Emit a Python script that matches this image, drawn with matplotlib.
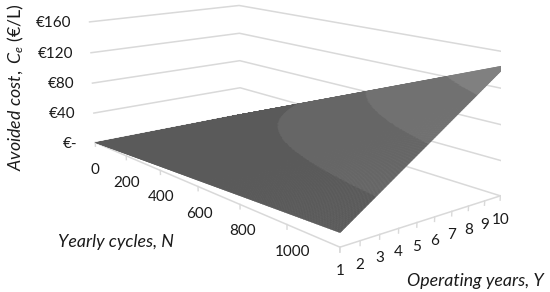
import numpy as np
import matplotlib
matplotlib.use('Agg')
import matplotlib.pyplot as plt
from mpl_toolkits.mplot3d import proj3d

plt.rcParams['font.family'] = ['Lato', 'DejaVu Sans']
plt.rcParams['mathtext.fontset'] = 'custom'
plt.rcParams['mathtext.it'] = 'Lato:italic'
plt.rcParams['mathtext.rm'] = 'Lato'

# data
cycles = [0, 200, 400, 600, 800, 1000, 1200]
years = [1, 2, 3, 4, 5, 6, 7, 8, 9, 10]
cost_table = [
    [0, 0, 0, 0, 0, 0, 0, 0, 0, 0],
    [2.4, 4.9, 7.3, 9.8, 12.2, 14.6, 17.1, 19.5, 22, 24.4],
    [4.9, 9.8, 14.6, 19.5, 24.4, 29.3, 34.2, 39, 43.9, 48.8],
    [7.3, 14.6, 22, 29.3, 36.6, 43.9, 51.2, 58.6, 65.9, 73.2],
    [9.8, 19.5, 29.3, 39, 48.8, 58.6, 68.3, 78.1, 87.8, 97.6],
    [12.2, 24.4, 36.6, 48.8, 61, 73.2, 85.4, 97.6, 109.8, 122],
    [14.6, 29.3, 43.9, 58.6, 73.2, 87.8, 102.5, 117.1, 131.8, 146.4],
]
cost_ticks = [0, 40, 80, 120, 160]
cost_labels = ['€-', '€40', '€80', '€120', '€160']
cycle_labels = ['0', '200', '400', '600', '800', '1000']
band_colors = ['#5a5a5a', '#666666', '#717171', '#808080']
grid_color = '#d9d9d9'
text_color = '#1a1a1a'

fig = plt.figure(figsize=(5.5, 2.92), dpi=100)
ax = fig.add_subplot(projection='3d', computed_zorder=False)
ax.set_position([46.14 / 550, -43.69 / 292, 454.45 / 550, 454.45 / 292])
ax.view_init(elev=13.385, azim=-38.954, roll=0.155)
ax.set_proj_type('persp', focal_length=0.4047)
ax.set_box_aspect((2.977, 1.488, 1))
ax.set_xlim(0, 1200)
ax.set_ylim(1, 10)
ax.set_zlim(0, 160)
ax.set_axis_off()


def tick_label(x, y, z, s, dx, dy, ha='center'):
    # project the 3d tick position, then nudge the label in pixels
    px, py, _ = proj3d.proj_transform(x, y, z, ax.get_proj())
    ax.annotate(s, xy=(px, py), xytext=(dx, dy), textcoords='offset pixels',
                ha=ha, va='center', fontsize=11, color=text_color,
                annotation_clip=False)


# walls
for c in cost_ticks:
    ax.plot([0, 0, 1200], [1, 10, 10], [c, c, c], color=grid_color, lw=1.1, zorder=1)

# floor edges and tick marks
ax.plot([0, 1200, 1200], [1, 1, 10], [0, 0, 0], color=grid_color, lw=1.1, zorder=1)
for n in cycles:
    ax.plot([n, n], [1, 1], [0, -5], color=grid_color, lw=1, zorder=1)
for y in years:
    ax.plot([1200, 1200], [y, y], [0, -5], color=grid_color, lw=1, zorder=1)

# surface, bands change every 40 like the excel chart
fine_n = np.linspace(cycles[0], cycles[-1], 241)
fine_y = np.linspace(years[0], years[-1], 241)
table = np.array(cost_table)
by_n = np.array([np.interp(fine_n, cycles, table[:, j]) for j in range(len(years))]).T
fine_z = np.array([np.interp(fine_y, years, row) for row in by_n])
Y, X = np.meshgrid(fine_y, fine_n)
idx = np.clip(np.digitize(fine_z, cost_ticks) - 1, 0, len(band_colors) - 1)
rgba = np.array([matplotlib.colors.to_rgba(c) for c in band_colors])[idx]
ax.plot_surface(X, Y, fine_z, facecolors=rgba, rstride=1, cstride=1,
                shade=False, linewidth=0.3, zorder=2)

# tick labels
for c, s in zip(cost_ticks, cost_labels):
    tick_label(0, 1, c, s, -18, -1, ha='right')
cycle_dx = [0, 0, 1, 1, 3, 6]
for n, s, dx in zip(cycles, cycle_labels, cycle_dx):
    tick_label(n, 1, 0, s, dx, -27)
for y in years:
    tick_label(1200, y, 0, str(y), 0, -24)

# axis titles
fig.text(16 / 550, 1 - 87 / 292, r'$\mathit{Avoided\ cost,\ C_e}$ (€/L)', rotation=90,
         ha='center', va='center', fontsize=12.8, color=text_color)
fig.text(116 / 550, 1 - 242 / 292, 'Yearly cycles, N', style='italic',
         ha='center', va='center', fontsize=12.8, color=text_color)
fig.text(475 / 550, 1 - 281 / 292, 'Operating years, Y', style='italic',
         ha='center', va='center', fontsize=12.8, color=text_color)

fig.savefig('out.png', dpi=100)
